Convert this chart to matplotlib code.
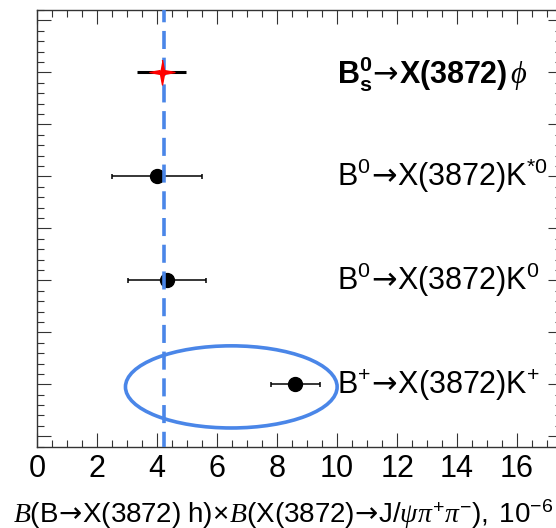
import numpy as np
import matplotlib
import matplotlib.pyplot as plt
import matplotlib.path as mpath
from matplotlib.patches import Ellipse
from matplotlib.ticker import MultipleLocator, NullFormatter

matplotlib.use("Agg")

plt.rcParams["font.family"] = ["Liberation Sans", "DejaVu Sans"]
plt.rcParams["mathtext.fontset"] = "custom"
plt.rcParams["mathtext.rm"] = "Liberation Sans"
plt.rcParams["mathtext.sf"] = "DejaVu Sans"
plt.rcParams["mathtext.it"] = "Liberation Serif:italic"
plt.rcParams["mathtext.bf"] = "Liberation Sans:bold"

ARROW = r"\!\mathsf{\rightarrow}\!"

# measurements, units of 1e-6
channels = [
    r"$\mathrm{B^{+}}" + ARROW + r"\mathrm{X(3872)K^{+}}$",
    r"$\mathrm{B^{0}}" + ARROW + r"\mathrm{X(3872)K^{0}}$",
    r"$\mathrm{B^{0}}" + ARROW + r"\mathrm{X(3872)K^{*0}}$",
]
values = [8.61, 4.31, 4.00]
errors = [0.81, 1.30, 1.50]
rows = [1, 2, 3]

bs_label = r"$\mathbf{B_{s}^{0}}" + ARROW + r"\mathbf{X(3872)}\,\phi$"
bs_value = 4.15
bs_error = 0.82
bs_row = 4

average = 4.23

# ellipse around the charged mode: centre, full width, full height
ell_center = (6.47, 0.975)
ell_width = 7.06
ell_height = 0.79

blue = "#4a86e8"

fig = plt.figure(figsize=(5.56, 5.28), dpi=100)
ax = fig.add_axes([0.0671, 0.154, 0.9437, 0.827])

ax.errorbar(values, rows, xerr=errors, fmt="o", color="black", ms=10,
            elinewidth=1.1, capsize=1.8, capthick=1.1, zorder=3)

ax.plot([average, average], [4.6, 0.4], color=blue, lw=2.6,
        ls=(1.6, (5.0, 2.4)), zorder=4)

# four-pointed star marker
ang = np.arange(8) * np.pi / 4
rad = np.where(np.arange(8) % 2 == 0, 1.0, 0.22)
star = mpath.Path(np.column_stack([rad * np.sin(ang), rad * np.cos(ang)]))

ax.errorbar([bs_value], [bs_row], xerr=[bs_error], fmt="none", ecolor="black",
            elinewidth=2.2, capsize=0, zorder=5)
ax.plot([bs_value], [bs_row], marker=star, ms=18, color="red", mec="red",
        ls="none", zorder=6)

ax.add_patch(Ellipse(ell_center, ell_width, ell_height, fill=False,
                     edgecolor=blue, lw=2.6, zorder=2))

for lab, r in zip(channels, rows):
    ax.text(10.0, r - 0.09, lab, fontsize=22, va="baseline", ha="left")
ax.text(10.0, bs_row - 0.105, bs_label, fontsize=22, va="baseline", ha="left")

ax.set_xlim(0, 17.5)
ax.set_ylim(0.4, 4.6)
ax.xaxis.set_major_locator(MultipleLocator(2))
ax.xaxis.set_minor_locator(MultipleLocator(0.5))
ax.yaxis.set_major_locator(MultipleLocator(0.5))
ax.yaxis.set_minor_locator(MultipleLocator(0.1))
ax.yaxis.set_major_formatter(NullFormatter())
ax.tick_params(which="both", direction="in", top=True, right=True,
               width=0.8, color="#333333")
ax.tick_params(which="major", length=10)
ax.tick_params(which="minor", length=5)
ax.tick_params(axis="x", labelsize=22, pad=5)
for s in ax.spines.values():
    s.set_linewidth(1.0)
    s.set_color("#333333")

fig.text(0.0234, 0.0095,
         r"$\mathit{B}\mathrm{(B}" + ARROW + r"\mathrm{X(3872)\ h)}\!\times\!\mathit{B}"
         r"\mathrm{(X(3872)}" + ARROW + r"\mathrm{J/}\psi\pi^{+}\pi^{-}\mathrm{),\ 10^{-6}}$",
         fontsize=20, ha="left", va="baseline")

fig.savefig("out.png", dpi=100)
